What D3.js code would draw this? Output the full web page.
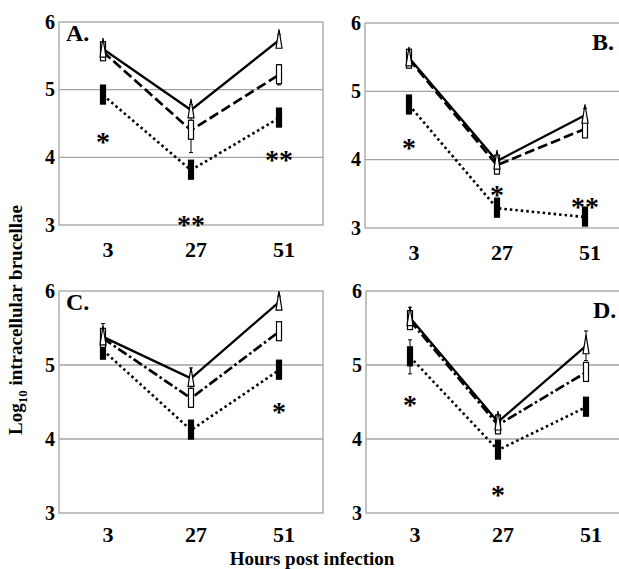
<!DOCTYPE html>
<html>
<head>
<meta charset="utf-8">
<script src="https://cdn.jsdelivr.net/npm/d3@7"></script>
<style>
  body { margin: 0; background: #fff; }
  svg { display: block; font-family: "Liberation Serif", "Times New Roman", serif; font-weight: bold; }
</style>
</head>
<body>
<svg id="chart" width="619" height="569"></svg>
<script>
// categories and labels
const hours = ["3", "27", "51"];
const panelLabels = ["A.", "B.", "C.", "D."];
const yTicks = [3, 4, 5, 6];

// series values per panel (A, B, C, D), log10 brucellae
const solidValues  = [[5.60, 4.70, 5.73], [5.49, 3.98, 4.65], [5.38, 4.82, 5.85], [5.64, 4.23, 5.26]];
const dashedValues = [[5.56, 4.40, 5.22], [5.47, 3.92, 4.45], [5.36, 4.55, 5.45], [5.60, 4.19, 4.90]];
const dottedValues = [[4.92, 3.81, 4.58], [4.80, 3.29, 3.16], [5.20, 4.12, 4.93], [5.11, 3.85, 4.43]];

// error bars (half-width)
const solidErr  = [[0.10, 0.08, 0.08], [0.10, 0.06, 0.10], [0.08, 0.14, 0.08], [0.14, 0.10, 0.20]];
const dashedErr = [[0.10, 0.33, 0.15], [0.10, 0.10, 0.10], [0.20, 0.12, 0.10], [0.10, 0.10, 0.10]];
const dottedErr = [[0.08, 0.08, 0.08], [0.10, 0.12, 0.08], [0.10, 0.08, 0.08], [0.23, 0.08, 0.08]];

// significance marks: panel index, hour, value at the mark centre
const starPanel = [0, 0, 0, 1, 1, 1, 2, 3, 3];
const starHour  = ["3", "27", "51", "3", "27", "51", "51", "3", "27"];
const starValue = [4.30, 3.08, 4.04, 4.24, 3.55, 3.38, 4.43, 4.53, 3.31];
const starText  = ["*", "**", "**", "*", "*", "**", "*", "*", "*"];

// layout of each panel frame
const panels = [
  { x: 59,  y: 22,  w: 264, h: 203, label: "left",  tickGap: 32 },
  { x: 365, y: 23,  w: 264, h: 205, label: "right", tickGap: 32 },
  { x: 59,  y: 291, w: 264, h: 222, label: "left",  tickGap: 29 },
  { x: 366, y: 291, w: 264, h: 222, label: "right", tickGap: 29 }
];

const svg = d3.select("#chart");
const gridColor = "#a3a3a3";

panels.forEach((p, i) => {
  const g = svg.append("g").attr("transform", `translate(${p.x},${p.y})`);

  const x = d3.scaleBand().domain(hours).range([0, p.w]);
  const y = d3.scaleLinear().domain([3, 6]).range([p.h, 0]);
  const cx = h => x(h) + x.bandwidth() / 2;

  // frame + gridlines
  g.append("rect")
    .attr("width", p.w).attr("height", p.h)
    .attr("fill", "none").attr("stroke", gridColor).attr("stroke-width", 1.3);
  g.selectAll(".grid").data([4, 5]).enter().append("line")
    .attr("x1", 0).attr("x2", p.w)
    .attr("y1", d => y(d)).attr("y2", d => y(d))
    .attr("stroke", gridColor).attr("stroke-width", 1.3);

  // y tick labels
  g.selectAll(".ytick").data(yTicks).enter().append("text")
    .attr("x", -4).attr("y", d => y(d)).attr("dy", "0.34em")
    .attr("text-anchor", "end").style("font-size", "20px")
    .text(d => d);

  // x tick labels
  g.selectAll(".xtick").data(hours).enter().append("text")
    .attr("x", d => cx(d) + 5).attr("y", p.h + p.tickGap)
    .attr("text-anchor", "middle").style("font-size", "22px")
    .text(d => d);

  // panel letter
  g.append("text")
    .attr("x", p.label === "left" ? 7 : 227)
    .attr("y", p.label === "left" ? 19 : 27)
    .style("font-size", "24px")
    .text(panelLabels[i]);

  const series = [
    { values: solidValues[i],  err: solidErr[i],  dash: null,  width: 2.3, marker: "triangle" },
    { values: dashedValues[i], err: dashedErr[i], dash: i < 2 ? "10,4" : "10,3,2.5,3", width: 2.7, marker: "open" },
    { values: dottedValues[i], err: dottedErr[i], dash: "2.5,3", width: 2.6, marker: "filled" }
  ];

  const line = d3.line().x((d, j) => cx(hours[j])).y(d => y(d));

  // error bars
  series.forEach(s => {
    s.values.forEach((v, j) => {
      const xx = cx(hours[j]);
      const eg = g.append("g").attr("stroke", "#000").attr("stroke-width", 1);
      eg.append("line").attr("x1", xx).attr("x2", xx).attr("y1", y(v - s.err[j])).attr("y2", y(v + s.err[j]));
      eg.append("line").attr("x1", xx - 2).attr("x2", xx + 2).attr("y1", y(v - s.err[j])).attr("y2", y(v - s.err[j]));
      eg.append("line").attr("x1", xx - 2).attr("x2", xx + 2).attr("y1", y(v + s.err[j])).attr("y2", y(v + s.err[j]));
    });
  });

  // lines
  series.slice().reverse().forEach(s => {
    g.append("path")
      .attr("d", line(s.values))
      .attr("fill", "none").attr("stroke", "#000")
      .attr("stroke-width", s.width)
      .attr("stroke-dasharray", s.dash);
  });

  // markers
  series.slice().reverse().forEach(s => {
    s.values.forEach((v, j) => {
      const xx = cx(hours[j]), yy = y(v);
      if (s.marker === "triangle") {
        g.append("path")
          .attr("d", `M${xx},${yy - 11} L${xx + 3},${yy + 8} L${xx - 3},${yy + 8} Z`)
          .attr("fill", "#fff").attr("stroke", "#000").attr("stroke-width", 1.2);
      } else {
        g.append("rect")
          .attr("x", xx - 2.5).attr("y", yy - 10)
          .attr("width", 5).attr("height", 19)
          .attr("fill", s.marker === "filled" ? "#000" : "#fff")
          .attr("stroke", "#000").attr("stroke-width", 1.2);
      }
    });
  });

  // significance asterisks
  starPanel.forEach((pi, k) => {
    if (pi !== i) return;
    g.append("text")
      .attr("x", cx(starHour[k])).attr("y", y(starValue[k]))
      .attr("dy", "0.5em")
      .attr("text-anchor", "middle")
      .style("font-size", "28px")
      .text(starText[k]);
  });
});

// axis titles
const yTitle = svg.append("text")
  .attr("transform", "translate(22,320) rotate(-90)")
  .attr("text-anchor", "middle")
  .style("font-size", "19px");
yTitle.append("tspan").text("Log");
yTitle.append("tspan").attr("dy", 5).style("font-size", "13px").text("10");
yTitle.append("tspan").attr("dy", -5).text(" intracellular brucellae");

svg.append("text")
  .attr("x", 312).attr("y", 565)
  .attr("text-anchor", "middle")
  .style("font-size", "19px")
  .text("Hours post infection");
</script>
</body>
</html>
